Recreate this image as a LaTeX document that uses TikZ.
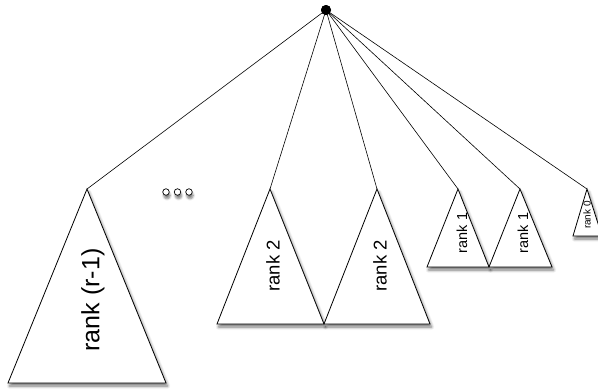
\documentclass[tikz,border=0pt]{standalone}
\usepackage{fontspec}
\setmainfont{Liberation Sans}
\usetikzlibrary{shadows.blur}
\begin{document}
\begin{tikzpicture}[x=1pt,y=-1pt,
  tri/.style={draw=black,line width=0.8pt,fill=white,line join=miter,
    blur shadow={shadow xshift=1.5pt,shadow yshift=-3pt,shadow blur steps=6,shadow blur radius=3pt,shadow opacity=55}},
  edge/.style={line width=0.6pt},
  lbl/.style={rotate=90,inner sep=0pt},
  dot/.style={circle,draw=black,fill=white,line width=0.7pt,minimum size=6.5pt,inner sep=0pt,
    blur shadow={shadow xshift=1pt,shadow yshift=-3.5pt,shadow blur steps=5,shadow opacity=50}}]
\useasboundingbox (0,0) rectangle (598,391);
\clip (0,0) rectangle (598,391);
% apex coordinates
\coordinate (a1) at (87,189);
\coordinate (a2) at (270,189);
\coordinate (a3) at (377,189);
\coordinate (a4) at (458,189);
\coordinate (a5) at (520,189);
\coordinate (a6) at (587,189);
% triangles
\draw[tri] (a1) -- (8,383) -- (166,383) -- cycle;
\draw[tri] (a2) -- (217,324) -- (324,324) -- cycle;
\draw[tri] (a3) -- (324,324) -- (430,324) -- cycle;
\draw[tri] (a4) -- (427,267) -- (489,267) -- cycle;
\draw[tri] (a5) -- (489,267) -- (552,267) -- cycle;
\draw[tri] (a6) -- (573,236) -- (602,236) -- cycle;
% labels
\node[lbl,font=\fontsize{25}{25}\selectfont] (t1) at (93,300) {rank (r-1)};
\node[lbl,font=\fontsize{18.5}{18.5}\selectfont] (t2) at (273,266) {rank 2};
\node[lbl,font=\fontsize{18.5}{18.5}\selectfont] (t3) at (380,266) {rank 2};
\node[lbl,font=\fontsize{14.5}{14.5}\selectfont] (t4) at (462,233) {rank 1};
\node[lbl,font=\fontsize{14.5}{14.5}\selectfont] (t5) at (523,233) {rank 1};
\node[lbl,font=\fontsize{10}{10}\selectfont] (t6) at (587,215) {rank 0};
% dots
\node[dot] (d1) at (166,192) {};
\node[dot] (d2) at (177.5,192) {};
\node[dot] (d3) at (189,192) {};
% root
\node[circle,fill=black,minimum size=10pt,inner sep=0pt] (root) at (326,10) {};
\foreach \i in {1,...,6} \draw[edge] (root.center) -- (a\i);
\node[circle,fill=black,minimum size=10pt,inner sep=0pt] at (root) {};
\end{tikzpicture}
\end{document}
